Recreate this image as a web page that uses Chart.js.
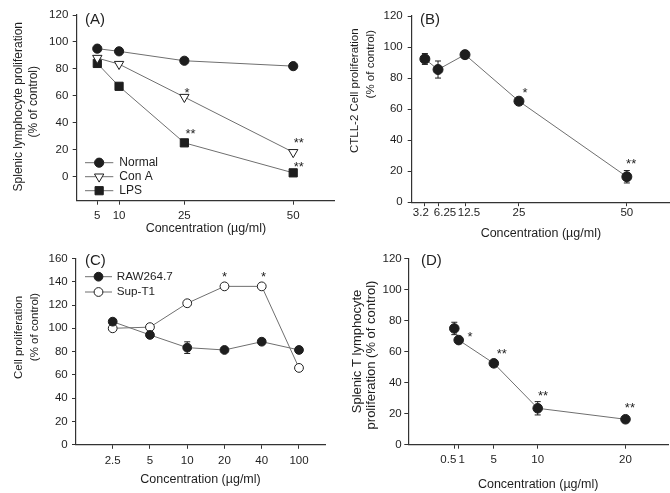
<!DOCTYPE html>
<html>
<head>
<meta charset="utf-8">
<script src="https://cdn.jsdelivr.net/npm/chart.js@4.4.1/dist/chart.umd.min.js"></script>
<style>
  html, body { margin: 0; padding: 0; background: #fff; }
  #fig { position: relative; width: 670px; height: 493px; overflow: hidden; background: #fff; }
  canvas { position: absolute; }
</style>
</head>
<body>
<div id="fig">
  <canvas id="chartA" width="335" height="246" style="left:0;top:0"></canvas>
  <canvas id="chartB" width="335" height="246" style="left:335px;top:0"></canvas>
  <canvas id="chartC" width="335" height="248" style="left:0;top:245px"></canvas>
  <canvas id="chartD" width="335" height="248" style="left:335px;top:245px"></canvas>
</div>
<script>
// Data

// (A) splenic lymphocytes
const concA = [5, 10, 25, 50];
const normalA = [95, 93, 86, 82];
const conAvalsA = [88, 83.5, 59, 18];
const lpsA = [84, 67, 25, 2.7];
const starsA = [[25.6, 65, '*'], [26.4, 34.3, '**'], [51.3, 27.4, '**'], [51.3, 10, '**']];
const yTicksA = [0, 20, 40, 60, 80, 100, 120];

// (B) CTLL-2 cells
const concB = [3.2, 6.25, 12.5, 25, 50];
const xLabelsB = ['3.2', '6.25', '12.5', '25', '50'];
const valsB = [92.3, 85.5, 95.1, 65.1, 16.4];
const errB = [3.5, 5.5, 2.5, 1.5, 4];
const starsB = [[26.4, 72.6, '*'], [51, 27.1, '**']];
const yTicksB = [0, 20, 40, 60, 80, 100, 120];

// (C) RAW264.7 / Sup-T1 (evenly spaced categories)
const concC = ['2.5', '5', '10', '20', '40', '100'];
const rawC = [105.7, 94.3, 83.4, 81.4, 88.5, 81.4];
const rawErrC = [2, 2, 5, 1.5, 2, 2];
const supC = [100, 101, 121.5, 136, 136, 66];
const starsC = [[3, 147, '*'], [4.05, 147, '*']];
const yTicksC = [0, 20, 40, 60, 80, 100, 120, 140, 160];

// (D) splenic T lymphocytes
const concD = [0.5, 1, 5, 10, 20];
const xLabelsD = ['0.5', '1', '5', '10', '20'];
const valsD = [75, 67.5, 52.5, 23.5, 16.4];
const errD = [4, 1.5, 2, 4.3, 1];
const starsD = [[2.3, 72, '*'], [5.9, 60.6, '**'], [10.6, 33.8, '**'], [20.5, 26, '**']];
const yTicksD = [0, 20, 40, 60, 80, 100, 120];

const FONT = '"Liberation Sans", Arial, Helvetica, sans-serif';
const INK = '#1e1e1e';
const AXIS = '#333333';
const LINE = '#6f6f6f';

const pts = (xs, ys) => xs.map((x, i) => ({ x: x, y: ys[i] }));

function drawMarker(ctx, ds, x, y) {
  const r = ds.pointRadius;
  ctx.save();
  ctx.beginPath();
  if (ds.pointStyle === 'rect') {
    const s = r * Math.SQRT1_2;
    ctx.rect(x - s, y - s, 2 * s, 2 * s);
  } else if (ds.pointStyle === 'triangle') {
    let a = (ds.pointRotation || 0) * Math.PI / 180;
    for (let k = 0; k < 3; k++) {
      const px = x + Math.sin(a) * r, py = y - Math.cos(a) * r;
      if (k) ctx.lineTo(px, py); else ctx.moveTo(px, py);
      a += 2 * Math.PI / 3;
    }
    ctx.closePath();
  } else {
    ctx.arc(x, y, r, 0, Math.PI * 2);
  }
  ctx.fillStyle = ds.pointBackgroundColor;
  ctx.fill();
  ctx.lineWidth = ds.pointBorderWidth || 1;
  ctx.strokeStyle = ds.pointBorderColor;
  ctx.stroke();
  ctx.restore();
}

// error bars, asterisks, panel letter, rotated y titles, in-plot legend
const figExtras = {
  id: 'figExtras',
  beforeDatasetsDraw(chart, args, opts) {
    const { ctx } = chart;
    const x = chart.scales.x, y = chart.scales.y;
    (opts.errors || []).forEach(e => {
      const ds = chart.data.datasets[e.dataset];
      ctx.save();
      ctx.strokeStyle = INK;
      ctx.lineWidth = 1;
      ds.data.forEach((p, i) => {
        const err = e.err[i];
        if (!err) return;
        const px = x.getPixelForValue(p.x);
        const top = y.getPixelForValue(p.y + err);
        const bot = y.getPixelForValue(p.y - err);
        ctx.beginPath();
        ctx.moveTo(px, top); ctx.lineTo(px, bot);
        ctx.moveTo(px - 3, top); ctx.lineTo(px + 3, top);
        ctx.moveTo(px - 3, bot); ctx.lineTo(px + 3, bot);
        ctx.stroke();
      });
      ctx.restore();
    });
  },
  afterDraw(chart, args, opts) {
    const { ctx, chartArea: area } = chart;
    const x = chart.scales.x, y = chart.scales.y;
    ctx.save();
    ctx.fillStyle = INK;

    // panel letter
    ctx.font = '15px ' + FONT;
    ctx.textAlign = 'left';
    ctx.textBaseline = 'middle';
    ctx.fillText(opts.panel, area.left + opts.panelDx, area.top + opts.panelDy);

    // significance marks
    const starSize = 13;
    ctx.font = starSize + 'px ' + FONT;
    ctx.textAlign = 'center';
    ctx.textBaseline = 'alphabetic';
    (opts.stars || []).forEach(s => {
      ctx.fillText(s[2], x.getPixelForValue(s[0]), y.getPixelForValue(s[1]) + starSize * 0.58);
    });

    // y title, one rotated line at a time
    const t = opts.yTitle;
    ctx.font = t.size + 'px ' + FONT;
    ctx.textAlign = 'center';
    ctx.textBaseline = 'middle';
    t.lines.forEach((line, i) => {
      ctx.save();
      ctx.translate(t.xs[i], t.ys[i]);
      ctx.rotate(-Math.PI / 2);
      ctx.fillText(line, 0, 0);
      ctx.restore();
    });

    // hand-placed x tick labels where they crowd each other
    if (opts.xLabels) {
      const xl = opts.xLabels;
      ctx.font = '11.5px ' + FONT;
      ctx.textAlign = 'center';
      ctx.textBaseline = 'middle';
      xl.values.forEach((v, i) => {
        ctx.fillText(xl.labels[i], x.getPixelForValue(v) + xl.nudge[i], area.bottom + xl.dy);
      });
    }

    // legend inside the plot
    if (opts.legend) {
      const lg = opts.legend;
      ctx.font = lg.size + 'px ' + FONT;
      ctx.textAlign = 'left';
      ctx.textBaseline = 'middle';
      chart.data.datasets.forEach((ds, i) => {
        const ly = lg.y + i * lg.dy;
        ctx.strokeStyle = ds.borderColor;
        ctx.lineWidth = ds.borderWidth;
        ctx.beginPath();
        ctx.moveTo(lg.x, ly);
        ctx.lineTo(lg.x + lg.len, ly);
        ctx.stroke();
        drawMarker(ctx, ds, lg.x + lg.len / 2, ly);
        ctx.fillStyle = INK;
        ctx.fillText(ds.label, lg.x + lg.len + lg.gap, ly);
      });
    }
    ctx.restore();
  }
};

function series(label, data, style, radius, fill, rotation) {
  return {
    label: label,
    data: data,
    borderColor: LINE,
    borderWidth: 1,
    tension: 0,
    clip: false,
    pointStyle: style,
    pointRadius: radius,
    pointRotation: rotation || 0,
    pointBackgroundColor: fill,
    pointBorderColor: INK,
    pointBorderWidth: 1
  };
}

function makePanel(id, cfg) {
  const tickFont = { family: FONT, size: 11.5 };
  return new Chart(document.getElementById(id), {
    type: 'line',
    data: { datasets: cfg.datasets },
    options: {
      responsive: false,
      animation: false,
      events: [],
      layout: { padding: cfg.padding, autoPadding: false },
      plugins: {
        legend: { display: false },
        tooltip: { enabled: false },
        figExtras: cfg.extras
      },
      scales: {
        x: {
          type: 'linear',
          bounds: 'data',
          min: cfg.xMin,
          max: cfg.xMax,
          afterBuildTicks: s => { s.ticks = cfg.xTicks.map(v => ({ value: v })); },
          afterFit: s => { s.height = cfg.xh; },
          ticks: {
            display: cfg.xTickLabels,
            autoSkip: false,
            maxRotation: 0,
            color: INK,
            font: tickFont,
            padding: cfg.xPad,
            callback: cfg.xFormat
          },
          grid: { display: true, drawOnChartArea: false, drawTicks: true, tickLength: 4, color: AXIS },
          border: { display: true, color: AXIS, width: 1.2 },
          title: {
            display: true,
            text: 'Concentration (µg/ml)',
            color: INK,
            font: { family: FONT, size: 12.5, lineHeight: 1.2 },
            padding: 0
          }
        },
        y: {
          type: 'linear',
          bounds: 'data',
          min: cfg.yMin,
          max: cfg.yMax,
          afterBuildTicks: s => { s.ticks = cfg.yTicks.map(v => ({ value: v })); },
          afterFit: s => { s.width = cfg.yw; },
          ticks: { color: INK, font: tickFont, padding: cfg.yPad },
          grid: { display: true, drawOnChartArea: false, drawTicks: true, tickLength: 4, color: AXIS },
          border: { display: true, color: AXIS, width: 1.2 }
        }
      }
    },
    plugins: [figExtras]
  });
}

// (A)
makePanel('chartA', {
  datasets: [
    series('Normal', pts(concA, normalA), 'circle', 4.6, INK),
    series('Con A', pts(concA, conAvalsA), 'triangle', 5.4, '#ffffff', 180),
    series('LPS', pts(concA, lpsA), 'rect', 5.8, INK)
  ],
  padding: { left: 0, top: 15, right: 0, bottom: 9.5 },
  yw: 76.7, xh: 35.8, xPad: 3.9, yPad: 4.4,
  xMin: 0.27, xMax: 59.6, xTicks: concA, xTickLabels: true,
  yMin: -18, yMax: 120, yTicks: yTicksA,
  extras: {
    panel: '(A)', panelDx: 8.3, panelDy: 5,
    stars: starsA,
    yTitle: { lines: ['Splenic lymphocyte proliferation', '(% of control)'], xs: [18.7, 34], ys: [106.7, 101.7], size: 12 },
    legend: { x: 85, y: 162.7, dy: 14, len: 28.3, gap: 6, size: 12 }
  }
});

// (B)
makePanel('chartB', {
  datasets: [series('CTLL-2', pts(concB, valsB), 'circle', 5, INK)],
  padding: { left: 0, top: 16, right: 0, bottom: 4.5 },
  yw: 76.7, xh: 39.3, xPad: 4, yPad: 5,
  xMin: 0.15, xMax: 60, xTicks: concB, xTickLabels: false,
  yMin: 0, yMax: 120, yTicks: yTicksB,
  extras: {
    panel: '(B)', panelDx: 8.3, panelDy: 4,
    errors: [{ dataset: 0, err: errB }],
    stars: starsB,
    yTitle: { lines: ['CTLL-2 Cell proliferation', '(% of control)'], xs: [19.5, 35.5], ys: [90.7, 64.2], size: 11.5 },
    xLabels: { values: concB, labels: xLabelsB, nudge: [-4, 7, 4, 0, 0], dy: 11 }
  }
});

// (C)
makePanel('chartC', {
  datasets: [
    series('RAW264.7', concC.map((c, i) => ({ x: i, y: rawC[i] })), 'circle', 4.4, INK),
    series('Sup-T1', concC.map((c, i) => ({ x: i, y: supC[i] })), 'circle', 4.4, '#ffffff')
  ],
  padding: { left: 0, top: 13.4, right: 10, bottom: 5.5 },
  yw: 76, xh: 42.7, xPad: 5, yPad: 4.3,
  xMin: -0.985, xMax: 5.698, xTicks: concC.map((c, i) => i), xTickLabels: true,
  xFormat: v => concC[v],
  yMin: 0, yMax: 160, yTicks: yTicksC,
  extras: {
    panel: '(C)', panelDx: 9, panelDy: 2,
    errors: [{ dataset: 0, err: rawErrC }],
    stars: starsC,
    yTitle: { lines: ['Cell proliferation', '(% of control)'], xs: [19.2, 34.7], ys: [92.5, 82], size: 11.5 },
    legend: { x: 85, y: 31.7, dy: 15.3, len: 27, gap: 4.7, size: 11.7 }
  }
});

// (D)
makePanel('chartD', {
  datasets: [series('Splenic T', pts(concD, valsD), 'circle', 4.8, INK)],
  padding: { left: 0, top: 13.7, right: 2, bottom: 1.2 },
  yw: 73.3, xh: 47.1, xPad: 4, yPad: 2.6,
  xMin: -4.74, xMax: 24.84, xTicks: concD, xTickLabels: false,
  yMin: 0, yMax: 120, yTicks: yTicksD,
  extras: {
    panel: '(D)', panelDx: 12.7, panelDy: 2,
    errors: [{ dataset: 0, err: errD }],
    stars: starsD,
    yTitle: { lines: ['Splenic T lymphocyte', 'proliferation (% of control)'], xs: [22.5, 36.7], ys: [106.5, 110], size: 13 },
    xLabels: { values: concD, labels: xLabelsD, nudge: [-6, 3, 0, 0, 0], dy: 15.3 }
  }
});
</script>
</body>
</html>
